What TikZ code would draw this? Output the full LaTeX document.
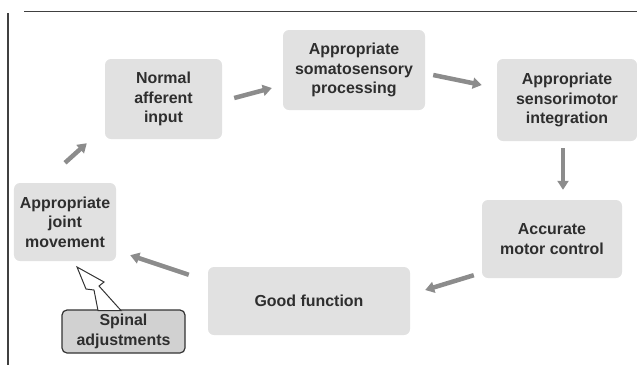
\documentclass[tikz,border=0pt]{standalone}
\usepackage{fontspec}
\setmainfont{Liberation Sans}
\usetikzlibrary{arrows.meta,calc}
\definecolor{boxfill}{HTML}{E1E1E1}
\definecolor{arrgray}{HTML}{8C8C8C}
\definecolor{txt}{HTML}{2E2E2E}
\begin{document}
\begin{tikzpicture}[x=1bp,y=-1bp,
  box/.style={fill=boxfill,rounded corners=6bp,align=center,text=txt,
    font=\fontsize{16}{19.5}\selectfont\bfseries,inner sep=2bp},
  arr/.style={draw=arrgray,line width=4.5bp,-{Triangle[length=9bp,width=11bp]}}]
\useasboundingbox (0,0) rectangle (637,365);
% frame
\draw[line width=1bp,black!75] (24,11) -- (637,11);
\draw[line width=1.2bp,black!75] (8,13) -- (8,365);
% boxes
\node[box,minimum width=117bp,minimum height=80bp] (nai) at (163.5,99) {Normal\\afferent\\input};
\node[box,minimum width=142bp,minimum height=80bp] (asp) at (354,70) {Appropriate\\somatosensory\\processing};
\node[box,minimum width=140bp,minimum height=82bp] (asi) at (567,100) {Appropriate\\sensorimotor\\integration};
\node[box,minimum width=140bp,minimum height=78bp] (amc) at (552,239) {Accurate\\motor control};
\node[box,minimum width=202bp,minimum height=68bp] (gf) at (309,301) {Good function};
\node[box,minimum width=102bp,minimum height=78bp] (ajm) at (65,222) {Appropriate\\joint\\movement};
\node[box,fill=black!18,draw=black!80,line width=1.2bp,rounded corners=5bp,
  minimum width=123bp,minimum height=43bp] (sa) at (123.5,331.5) {Spinal\\adjustments};
% lightning bolt callout
\draw[black!80,line width=1bp,fill=white,line join=miter]
  (77,267) -- (104,282) -- (99,286) -- (121,310.5) -- (98,310.5) -- (94,290) -- (86,289) -- cycle;
% arrows
\draw[arr] ($(ajm.north)+(0,-20)$) -- ($(nai.south west)+(-18,4)$);
\draw[arr] ($(nai.east)+(12,-1)$) -- ($(asp.west)+(-11,18)$);
\draw[arr] ($(asp.east)+(8,5)$) -- ($(asi.west)+(-15,-15)$);
\draw[arr] ($(asi.south)+(-4,7)$) -- ($(amc.north)+(11,-10)$);
\draw[arr] ($(amc.south west)+(-8,-3)$) -- ($(gf.east)+(15,-11)$);
\draw[arr] ($(gf.north west)+(-19,8)$) -- ($(ajm.south east)+(14,-6)$);
\end{tikzpicture}
\end{document}
